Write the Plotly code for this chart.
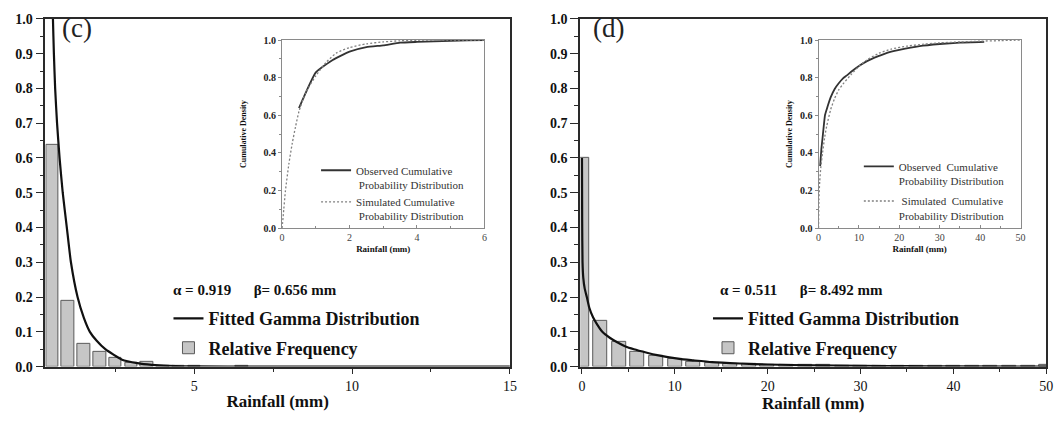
import plotly.graph_objects as go

# ---------------- data ----------------
# panel (c)
c_bin_x = [0.5, 1.0, 1.5, 2.0, 2.5, 3.0, 3.5, 4.0, 4.5, 5.0, 6.5]
c_freq = [0.638, 0.19, 0.066, 0.042, 0.026, 0.010, 0.014, 0.002, 0.001, 0.002, 0.001]
c_fit_x = [0.49, 0.52, 0.55, 0.59, 0.65, 0.73, 0.83, 0.96, 1.09, 1.3, 1.5, 1.69, 1.9,
           2.18, 2.71, 3.2, 3.65, 4.2, 5.0, 7.0, 15.0]
c_fit_y = [1.12, 1.0, 0.9, 0.8, 0.7, 0.6, 0.5, 0.4, 0.3, 0.2, 0.14, 0.1, 0.075,
           0.05, 0.02, 0.01, 0.005, 0.002, 0.0005, 0.0, 0.0]
c_obs_x = [0.5, 1.0, 1.5, 2.0, 2.5, 3.0, 3.5, 4.0, 4.5, 5.0, 5.5, 6.0]
c_obs_y = [0.638, 0.828, 0.894, 0.938, 0.962, 0.972, 0.986, 0.990, 0.993, 0.996, 0.998, 1.0]
c_sim_x = [0, 0.05, 0.1, 0.2, 0.3, 0.4, 0.5, 0.7, 1.0, 1.3, 1.6, 2.0, 2.5, 3.0, 3.5, 4.0, 5.0, 6.0]
c_sim_y = [0, 0.1, 0.2, 0.34, 0.45, 0.54, 0.62, 0.72, 0.81, 0.88, 0.93, 0.96, 0.98, 0.99,
           0.996, 0.999, 1.0, 1.0]
c_alpha, c_beta = "0.919", "0.656"

# panel (d)
d_bin_x = [0, 2, 4, 6, 8, 10, 12, 14, 16, 18, 20, 22, 24, 26, 28, 30, 32, 34, 36, 38,
           40, 42, 44, 46, 48, 50]
d_freq = [0.6, 0.132, 0.072, 0.042, 0.031, 0.022, 0.015, 0.012, 0.009, 0.007, 0.006,
          0.005, 0.004, 0.004, 0.003, 0.003, 0.002, 0.002, 0.002, 0.002, 0.001, 0.001,
          0.001, 0.001, 0.001, 0.004]
d_fit_x = [0.01, 0.03, 0.07, 0.15, 0.3, 0.53, 0.79, 1.2, 1.67, 2.2, 3.0, 3.8, 4.7, 5.6,
           7.0, 8.1, 10.5, 12.0, 14.0, 17.0, 20.0, 25.0, 30.0, 35.0, 40.0, 50.0]
d_fit_y = [0.6, 0.42, 0.3, 0.255, 0.225, 0.2, 0.17, 0.142, 0.12, 0.1, 0.083, 0.07,
           0.058, 0.05, 0.04, 0.033, 0.022, 0.018, 0.013, 0.009, 0.006, 0.0035, 0.002,
           0.0012, 0.0007, 0.0002]
d_obs_x = [0.4, 0.7, 1.0, 1.6, 2.0, 3.0, 4.0, 5.0, 6.0, 7.0, 8.0, 10.0, 12.0, 14.0,
           16.0, 18.0, 20.0, 25.0, 30.0, 35.0, 41.0]
d_obs_y = [0.33, 0.42, 0.48, 0.6, 0.63, 0.695, 0.74, 0.77, 0.795, 0.812, 0.83, 0.862,
           0.888, 0.908, 0.924, 0.938, 0.948, 0.968, 0.979, 0.986, 0.99]
d_sim_x = [0, 0.1, 0.3, 0.6, 1.0, 1.5, 2.0, 3.0, 4.0, 5.0, 6.0, 8.0, 10.0, 12.0, 15.0,
           18.0, 22.0, 26.0, 30.0, 35.0, 40.0, 45.0, 50.0]
d_sim_y = [0, 0.15, 0.25, 0.33, 0.4, 0.48, 0.54, 0.63, 0.69, 0.735, 0.765, 0.815, 0.86,
           0.895, 0.93, 0.952, 0.968, 0.978, 0.985, 0.99, 0.994, 0.997, 1.0]
d_alpha, d_beta = "0.511", "8.492"

# ---------------- styling ----------------
SERIF = "Liberation Serif, Times New Roman, serif"
BAR_FILL = "#c6c6c6"
BAR_LINE = "#5a5a5a"
FRAME = "#2a2a2a"
INSET_FRAME = "#8a8a8a"

fig = go.Figure()

# main panels
for xa, ya, bx, by, bw, fx, fy, lg in [
    ("x", "y", c_bin_x, c_freq, 0.4, c_fit_x, c_fit_y, "legend"),
    ("x2", "y2", d_bin_x, d_freq, 1.5, d_fit_x, d_fit_y, "legend2"),
]:
    fig.add_trace(go.Bar(
        x=bx, y=by, width=bw, xaxis=xa, yaxis=ya, name="<b>Relative Frequency</b>",
        marker=dict(color=BAR_FILL, line=dict(color=BAR_LINE, width=1)),
        legend=lg, legendgroup="b", legendrank=2))
    fig.add_trace(go.Scatter(
        x=fx, y=fy, xaxis=xa, yaxis=ya, mode="lines",
        name="<b>Fitted Gamma Distribution</b>",
        line=dict(color="#111111", width=2.2, shape="spline", smoothing=0.5),
        legend=lg, legendgroup="a", legendrank=1))

# insets
for xa, ya, ox, oy, sx, sy, lg, names in [
    ("x3", "y3", c_obs_x, c_obs_y, c_sim_x, c_sim_y, "legend3",
     ("Observed Cumulative<br> Probability Distribution",
      "Simulated Cumulative<br> Probability Distribution")),
    ("x4", "y4", d_obs_x, d_obs_y, d_sim_x, d_sim_y, "legend4",
     ("Observed&nbsp; Cumulative<br>Probability Distribution",
      " Simulated&nbsp; Cumulative<br>Probability Distribution")),
]:
    fig.add_trace(go.Scatter(
        x=ox, y=oy, xaxis=xa, yaxis=ya, mode="lines", name=names[0],
        line=dict(color="#333333", width=1.8, shape="spline", smoothing=0.4),
        legend=lg, legendgroup="o"))
    fig.add_trace(go.Scatter(
        x=sx, y=sy, xaxis=xa, yaxis=ya, mode="lines", name=names[1],
        line=dict(color="#808080", width=1.3, dash="2px,2px", shape="spline",
                  smoothing=0.6),
        legend=lg, legendgroup="s"))

# the page body keeps an 8px margin on every side; size the figure to fit inside
OFF = 8
W, H = 1064 - 2 * OFF, 425 - 2 * OFF


def px_x(p):
    return (p - OFF) / W


def px_y(p):
    return 1 - (p - OFF) / H


main_ydom = [px_y(373), px_y(12)]
inset_ydom = [px_y(229.3), px_y(34)]

main_tickfont = dict(family=SERIF, size=14, color="#111111")
main_axis_common = dict(
    showline=True, linecolor=FRAME, linewidth=1.6, mirror=True,
    ticks="outside", tickcolor=FRAME, tickwidth=1.4, showgrid=False, zeroline=False,
    tickfont=main_tickfont,
)

inset_common = dict(
    showline=True, linecolor=INSET_FRAME, linewidth=1, mirror=True,
    tickcolor=INSET_FRAME, tickwidth=1, showgrid=False, zeroline=False,
)

layout = dict(
    width=W, height=H,
    margin=dict(l=0, r=0, t=0, b=0),
    paper_bgcolor="white", plot_bgcolor="white",
    bargap=0, barmode="overlay",
    font=dict(family=SERIF, color="#111111"),
    xaxis=dict(domain=[px_x(42.7), px_x(511.7)], range=[0.28, 15], anchor="y",
               tickvals=[5, 10, 15], ticklen=6,
               minor=dict(tickvals=[2.5, 7.5, 12.5], ticklen=4, ticks="outside",
                          tickcolor=FRAME),
               title=dict(text="<b>Rainfall (mm)</b>", font=dict(family=SERIF, size=17),
                          standoff=2),
               tickprefix="<b>", ticksuffix="</b>",
               **main_axis_common),
    yaxis=dict(domain=main_ydom, range=[0, 1.0], anchor="x", dtick=0.1, tick0=0,
               tickformat=".1f", ticklen=8, tickprefix="<b>", ticksuffix="</b>",
               minor=dict(dtick=0.05, ticklen=4, ticks="outside", tickcolor=FRAME),
               **main_axis_common),
    xaxis2=dict(domain=[px_x(582.7), px_x(1053.3)], range=[-0.18, 50], anchor="y2",
                tickvals=[0, 10, 20, 30, 40, 50], ticklen=6,
                minor=dict(tickvals=[5, 15, 25, 35, 45], ticklen=4, ticks="outside",
                           tickcolor=FRAME),
                title=dict(text="<b>Rainfall (mm)</b>", font=dict(family=SERIF, size=17),
                           standoff=2),
                tickprefix="<b>", ticksuffix="</b>",
                **main_axis_common),
    yaxis2=dict(domain=main_ydom, range=[0, 1.0], anchor="x2", dtick=0.1, tick0=0,
                tickformat=".1f", ticklen=8, tickprefix="<b>", ticksuffix="</b>",
                minor=dict(dtick=0.05, ticklen=4, ticks="outside", tickcolor=FRAME),
                **main_axis_common),
    xaxis3=dict(domain=[px_x(281.7), px_x(486)], range=[0, 6], anchor="y3",
                dtick=2, ticks="inside", ticklen=3,
                minor=dict(dtick=1, ticklen=2, ticks="inside", tickcolor=INSET_FRAME),
                tickfont=dict(family=SERIF, size=10, color="#444444"),
                title=dict(text="<b>Rainfall (mm)</b>", font=dict(family=SERIF, size=9),
                           standoff=3),
                **inset_common),
    yaxis3=dict(domain=inset_ydom, range=[0, 1.0], anchor="x3", dtick=0.2,
                tickformat=".1f", ticks="outside", ticklen=3,
                tickprefix="<b>", ticksuffix="</b>",
                minor=dict(dtick=0.1, ticklen=2, ticks="outside", tickcolor=INSET_FRAME),
                tickfont=dict(family=SERIF, size=10, color="#222222"),
                title=dict(text="<b>Cumulative Density</b>", font=dict(family=SERIF, size=8),
                           standoff=15),
                **inset_common),
    xaxis4=dict(domain=[px_x(823.3), px_x(1027.3)], range=[0, 50], anchor="y4",
                dtick=10, ticks="inside", ticklen=3,
                minor=dict(dtick=5, ticklen=2, ticks="inside", tickcolor=INSET_FRAME),
                tickfont=dict(family=SERIF, size=10, color="#444444"),
                title=dict(text="<b>Rainfall (mm)</b>", font=dict(family=SERIF, size=9),
                           standoff=3),
                **inset_common),
    yaxis4=dict(domain=inset_ydom, range=[0, 1.0], anchor="x4", dtick=0.2,
                tickformat=".1f", ticks="outside", ticklen=3,
                tickprefix="<b>", ticksuffix="</b>",
                minor=dict(dtick=0.1, ticklen=2, ticks="outside", tickcolor=INSET_FRAME),
                tickfont=dict(family=SERIF, size=10, color="#222222"),
                title=dict(text="<b>Cumulative Density</b>", font=dict(family=SERIF, size=8),
                           standoff=6),
                **inset_common),
    legend=dict(x=px_x(167), y=px_y(304), xanchor="left", yanchor="top",
                bgcolor="rgba(0,0,0,0)", traceorder="grouped", tracegroupgap=3,
                font=dict(family=SERIF, size=18, color="#111111"), itemwidth=30),
    legend2=dict(x=px_x(711.7), y=px_y(304), xanchor="left", yanchor="top",
                 bgcolor="rgba(0,0,0,0)", traceorder="grouped", tracegroupgap=3,
                 font=dict(family=SERIF, size=18, color="#111111"), itemwidth=30),
    legend3=dict(x=px_x(316), y=px_y(155), xanchor="left", yanchor="top",
                 bgcolor="rgba(0,0,0,0)", traceorder="grouped", tracegroupgap=0,
                 valign="top", font=dict(family=SERIF, size=11, color="#333333"),
                 itemwidth=30),
    legend4=dict(x=px_x(864), y=px_y(151), xanchor="left", yanchor="top",
                 bgcolor="rgba(0,0,0,0)", traceorder="grouped", tracegroupgap=3,
                 valign="top", font=dict(family=SERIF, size=11, color="#333333"),
                 itemwidth=30),
    showlegend=True,
)
fig.update_layout(**layout)

for label, xpos in [("(c)", 57), ("(d)", 594)]:
    fig.add_annotation(xref="paper", yref="paper", x=px_x(xpos), y=px_y(22),
                       xanchor="left", yanchor="middle", showarrow=False, text=label,
                       font=dict(family=SERIF, size=27, color="#222222"))

for xpos, al, be in [(170, c_alpha, c_beta), (722, d_alpha, d_beta)]:
    fig.add_annotation(
        xref="paper", yref="paper", x=px_x(xpos), y=px_y(293), xanchor="left",
        yanchor="middle", showarrow=False,
        text="<b>α = " + al + "&nbsp;&nbsp;&nbsp;&nbsp;&nbsp;&nbsp;β= " + be + " mm</b>",
        font=dict(family=SERIF, size=15, color="#111111"))

fig.write_html("out.html")
